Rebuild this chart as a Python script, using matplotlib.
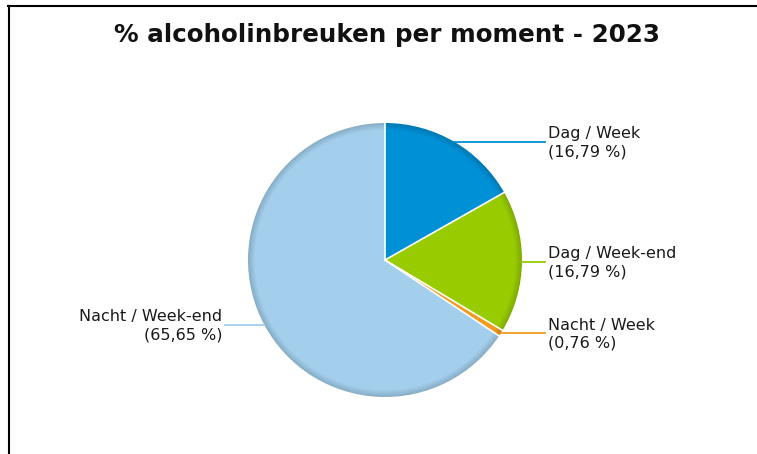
import numpy as np
import matplotlib
matplotlib.use("Agg")
import matplotlib.pyplot as plt
from matplotlib.lines import Line2D
from matplotlib.colors import to_rgb

title = "% alcoholinbreuken per moment - 2023"
categories = ["Dag / Week", "Dag / Week-end", "Nacht / Week", "Nacht / Week-end"]
values = [16.79, 16.79, 0.76, 65.65]
value_labels = ["16,79 %", "16,79 %", "0,76 %", "65,65 %"]
colors = ["#0090d6", "#99cc00", "#f29a1c", "#a3cfec"]

W, H = 757, 454
fig = plt.figure(figsize=(W / 100, H / 100), dpi=100)
ax = fig.add_axes([0, 0, 1, 1])

cx, cy, r = 385, H - 260, 137

def darker(c, f):
    rgb = np.array(to_rgb(c))
    return tuple(rgb * f)

# shaded rim: outer darker rings, inner base color
nlay = 7
for k in range(nlay):
    rad = r - k * 1.1
    f = 0.84 + 0.16 * (k / (nlay - 1))
    ax.pie(values, colors=[darker(c, f) for c in colors], startangle=90,
           counterclock=False, center=(cx, cy), radius=rad,
           wedgeprops=dict(linewidth=0), frame=True)
ax.pie(values, colors=colors, startangle=90, counterclock=False,
       center=(cx, cy), radius=r - nlay * 1.1,
       wedgeprops=dict(linewidth=0), frame=True)
ax.set_xlim(0, W)
ax.set_ylim(0, H)
ax.set_aspect("equal")
ax.axis("off")

# white separators
tot = sum(values)
ang = 90.0
for v in values:
    a = np.deg2rad(ang)
    ax.plot([cx, cx + r * np.cos(a)], [cy, cy + r * np.sin(a)], color="white", lw=1.2, zorder=5)
    ang -= v / tot * 360

# labels with connectors
ang = 90.0
for cat, v, lab, col in zip(categories, values, value_labels, colors):
    span = v / tot * 360
    mid = np.deg2rad(ang - span / 2)
    ang -= span
    ex, ey = cx + r * np.cos(mid), cy + r * np.sin(mid)
    if np.cos(mid) >= 0:
        tx = 545
        ax.plot([ex, tx], [ey, ey], color=col, lw=1.3, zorder=6)
        ax.text(tx + 3, ey - 1, f"{cat}\n({lab})", ha="left", va="center", fontsize=11.5,
                color="#1a1a1a", linespacing=1.25, family="DejaVu Sans")
    else:
        tx = 225
        ax.plot([tx, ex], [ey, ey], color=col, lw=1.3, zorder=6)
        ax.text(tx - 3, ey - 1, f"{cat}\n({lab})", ha="right", va="center", fontsize=11.5,
                color="#1a1a1a", linespacing=1.25, family="DejaVu Sans", multialignment="right")

fig.text(387 / W, 1 - 42 / H, title, ha="center", va="baseline", fontsize=17.7,
         fontweight="bold", color="#111111", family="DejaVu Sans")

# frame lines (top and left)
fig.add_artist(Line2D([8.5 / W, 8.5 / W], [0, 1 - 6 / H], transform=fig.transFigure, color="black", lw=1.5))
fig.add_artist(Line2D([8 / W, 1], [1 - 6 / H, 1 - 6 / H], transform=fig.transFigure, color="black", lw=1.5))

fig.savefig("out.png", dpi=100, facecolor="white")
